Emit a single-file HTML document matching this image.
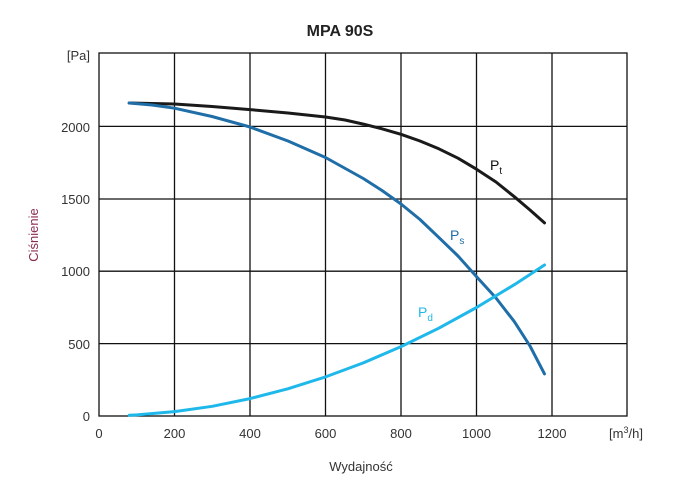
<!DOCTYPE html>
<html><head><meta charset="utf-8"><style>body{margin:0;background:#fff}svg{display:block}text{font-family:"Liberation Sans",sans-serif;fill:#333;font-size:13px}</style></head><body>
<svg width="674" height="482" viewBox="0 0 674 482">
<text x="340" y="36" text-anchor="middle" style="font-size:16px;font-weight:bold;fill:#222">MPA 90S</text>
<g stroke="#111" stroke-width="1.3" fill="none">
<rect x="99" y="53" width="528" height="363"/>
<path d="M174.5 53V416M250 53V416M325.5 53V416M401 53V416M476.5 53V416M552 53V416M99 126.4H627M99 199H627M99 271.2H627M99 343.6H627"/>
</g>
<g text-anchor="end">
<text x="90" y="60">[Pa]</text><text x="90" y="132">2000</text><text x="90" y="204">1500</text><text x="90" y="276">1000</text><text x="90" y="349">500</text><text x="90" y="421">0</text>
</g>
<g text-anchor="middle">
<text x="99" y="438">0</text><text x="174.5" y="438">200</text><text x="250" y="438">400</text><text x="325.5" y="438">600</text><text x="401" y="438">800</text><text x="476.5" y="438">1000</text><text x="552" y="438">1200</text>
<text x="626" y="438">[m<tspan dy="-5" style="font-size:9px">3</tspan><tspan dy="5">/h]</tspan></text>
<text x="361" y="471">Wydajność</text>
</g>
<text transform="translate(38,235) rotate(-90)" text-anchor="middle" style="fill:#8a2b50">Ciśnienie</text>
<g fill="none" stroke-width="3" stroke-linecap="round" stroke-linejoin="round">
<polyline stroke="#1a1a1a" points="129.2,103 174.5,104 212,106.5 250,109.6 288,113 325.5,117 345,120 363.3,124.1 382,128.8 401,134.3 420,141 438.8,148.8 458,158.2 476.5,169.2 496,182 514.3,196.7 530,210 544.5,222.9"/>
<polyline stroke="#1f6ea8" points="129.2,103 152,105 174.5,108.2 212,116.5 250,127 288,141 325.5,157.5 363.3,178.5 382,190.5 401,204 420,219.5 438.8,237.4 458,256 476.5,276.6 496,298 514.3,321.6 530,346 544.5,373.9"/>
<polyline stroke="#1fb8ea" points="129.2,415.3 136.8,414.9 174.5,411.6 212.3,406.3 250,398.6 287.8,388.8 325.5,376.9 363.3,362.9 401,346.6 438.8,328.2 476.5,307.5 514.3,284.7 544.5,265"/>
</g>
<text x="490" y="170" style="font-size:14px;fill:#111">P<tspan dy="4" style="font-size:10px">t</tspan></text>
<text x="450" y="240" style="font-size:14px;fill:#1f6ea8">P<tspan dy="4" style="font-size:10px">s</tspan></text>
<text x="418" y="317" style="font-size:14px;fill:#1fb8ea">P<tspan dy="4" style="font-size:10px">d</tspan></text>
</svg>
</body></html>
